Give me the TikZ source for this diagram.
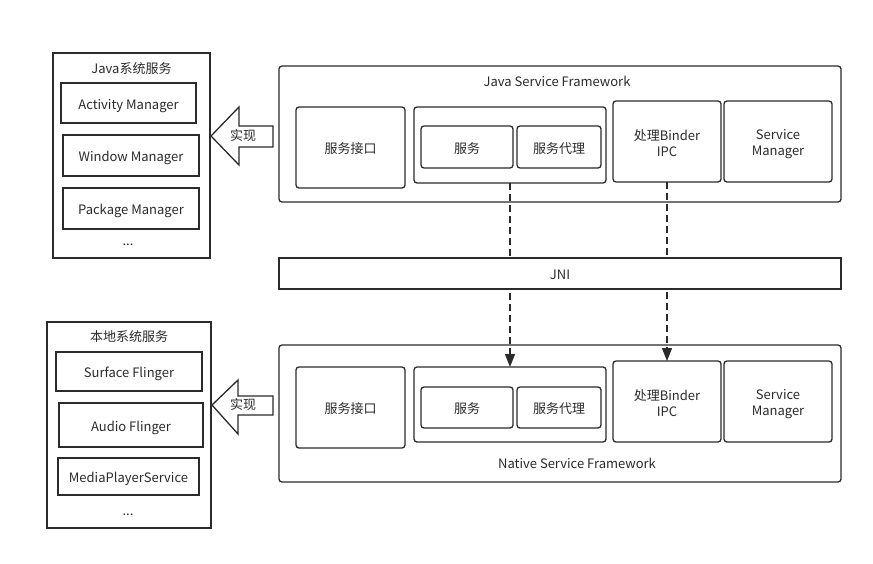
\documentclass[tikz,border=0pt]{standalone}
\usepackage{fontspec}
\setmainfont{Noto Sans CJK SC}
\usetikzlibrary{arrows.meta}
\definecolor{ln}{HTML}{2B2B2B}
\newcommand{\topstrut}{\rule{0pt}{15pt}}
\begin{document}
\begin{tikzpicture}[x=1pt,y=-1pt, font=\fontsize{13}{16}\selectfont,
 box/.style={draw=ln, line width=1.3pt, inner sep=0pt, outer sep=0pt, fill=white, align=center, text=ln},
 rbox/.style={box, rounded corners=3pt},
 oneline/.style={text height=13pt, text depth=1pt},
 lbl/.style={inner sep=0pt, text=ln, align=center},
 implarrow/.style={draw=ln, line width=1.3pt, fill=white, line join=miter},
 dasharrow/.style={draw=ln, line width=1.3pt, dash pattern=on 7pt off 4pt, -{Triangle[length=13pt,width=10pt]}}]
\useasboundingbox[fill=white] (0,0) rectangle (873,563);

% ---- Java system services (left top)
\node[box, minimum width=157pt, minimum height=205pt] (jsys) at (131.5,155.5) {};
\node[lbl] (jsysT) at (131.5,69) {Java系统服务};
\node[box, oneline, minimum width=135pt, minimum height=40pt] (am) at (128.5,103) {Activity Manager};
\node[box, oneline, minimum width=136pt, minimum height=41pt] (wm) at (131,155.5) {Window Manager};
\node[box, oneline, minimum width=136pt, minimum height=41pt] (pm) at (131,208.5) {Package Manager};
\node[lbl] (jdots) at (128,245) {...};

% ---- native system services (left bottom)
\node[box, minimum width=164pt, minimum height=206pt] (nsys) at (129,425) {};
\node[lbl] (nsysT) at (129,337) {本地系统服务};
\node[box, oneline, minimum width=146pt, minimum height=39pt] (sf) at (129,371.5) {Surface Flinger};
\node[box, oneline, minimum width=144pt, minimum height=44pt] (af) at (131,425) {Audio Flinger};
\node[box, oneline, minimum width=141pt, minimum height=37pt] (mps) at (128.5,476.5) {MediaPlayerService};
\node[lbl] (ndots) at (128,515) {...};

% ---- implementation arrows
\draw[implarrow] (211,136) -- (239,107) -- (239,126) -- (273,126) -- (273,147) -- (239,147) -- (239,165) -- cycle;
\node[lbl] (impl1) at (243,136) {实现};
\draw[implarrow] (212,405) -- (238,380) -- (238,396) -- (273,396) -- (273,415) -- (238,415) -- (238,434) -- cycle;
\node[lbl] (impl2) at (243,405) {实现};

% ---- Java Service Framework
\node[rbox, minimum width=562pt, minimum height=136pt] (jfw) at (560,134) {};
\node[lbl] (jfwT) at (557,81) {Java Service Framework};
\node[rbox, oneline, minimum width=109pt, minimum height=81pt] (jif) at (350.5,147.5) {服务接口};
\node[rbox, minimum width=192pt, minimum height=76pt] (jgrp) at (510,145) {};
\node[rbox, oneline, minimum width=92pt, minimum height=42pt] (jsvc) at (467,147) {服务};
\node[rbox, oneline, minimum width=84pt, minimum height=42pt] (jprx) at (559,147) {服务代理};
\node[rbox, minimum width=108pt, minimum height=81pt] (jbnd) at (667,141.5) {\topstrut 处理Binder\\IPC};
\node[rbox, minimum width=108pt, minimum height=81pt] (jsm) at (778,141.5) {\topstrut Service\\Manager};

% ---- Native Service Framework
\node[rbox, minimum width=562pt, minimum height=137pt] (nfw) at (560,413.5) {};
\node[lbl] (nfwT) at (577,463) {Native Service Framework};
\node[rbox, oneline, minimum width=109pt, minimum height=81pt] (nif) at (350.5,407.5) {服务接口};
\node[rbox, minimum width=192pt, minimum height=75pt] (ngrp) at (510,404.5) {};
\node[rbox, oneline, minimum width=92pt, minimum height=41pt] (nsvc) at (467,407.5) {服务};
\node[rbox, oneline, minimum width=84pt, minimum height=41pt] (nprx) at (559,407.5) {服务代理};
\node[rbox, minimum width=108pt, minimum height=81pt] (nbnd) at (667,401.5) {\topstrut 处理Binder\\IPC};
\node[rbox, minimum width=108pt, minimum height=81pt] (nsm) at (778,401.5) {\topstrut Service\\Manager};

% ---- dashed connectors (behind JNI)
\draw[dasharrow] (jgrp.south) -- (ngrp.north);
\draw[dasharrow] (jbnd.south) -- (nbnd.north);

% ---- JNI
\node[box, oneline, minimum width=562pt, minimum height=31pt] (jni) at (560,273.5) {JNI};
\end{tikzpicture}
\end{document}
